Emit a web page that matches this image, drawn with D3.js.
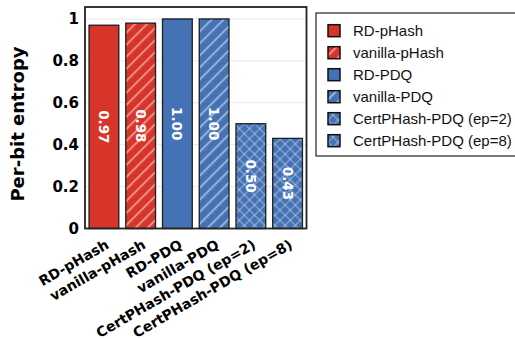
<!DOCTYPE html>
<html><head><meta charset="utf-8">
<script src="https://cdn.jsdelivr.net/npm/d3@7"></script>
<style>body{margin:0;background:#fff}svg{display:block}</style>
</head><body>
<script>
const categories = ["RD-pHash","vanilla-pHash","RD-PDQ","vanilla-PDQ","CertPHash-PDQ (ep=2)","CertPHash-PDQ (ep=8)"];
const values = [0.97, 0.98, 1.00, 1.00, 0.50, 0.43];
const valueLabels = ["0.97","0.98","1.00","1.00","0.50","0.43"];
const fills = ["red","red","blue","blue","blue","blue"];
const hatches = ["none","diag","none","diag","cross","cross"];
const yTicks = [0, 0.2, 0.4, 0.6, 0.8, 1];
const yTickLabels = ["0","0.2","0.4","0.6","0.8","1"];

const W = 515, H = 339;
const L = 85, R = 306.5, T = 7, B = 228.5;
const colors = {red: "#d8352a", blue: "#4472b4"};

const svg = d3.select("body").append("svg").attr("width", W).attr("height", H);
const defs = svg.append("defs");
const diag = defs.append("pattern").attr("id","diag").attr("patternUnits","userSpaceOnUse")
  .attr("width",8.5).attr("height",8.5).attr("patternTransform","rotate(45)");
diag.append("line").attr("x1",2).attr("x2",2).attr("y1",0).attr("y2",8.5)
  .attr("stroke","rgba(255,255,255,0.45)").attr("stroke-width",2);
const cross = defs.append("pattern").attr("id","cross").attr("patternUnits","userSpaceOnUse")
  .attr("width",7.2).attr("height",7.2).attr("patternTransform","rotate(45)");
cross.append("line").attr("x1",1).attr("x2",1).attr("y1",0).attr("y2",7.2)
  .attr("stroke","rgba(255,255,255,0.38)").attr("stroke-width",1.2);
cross.append("line").attr("y1",1).attr("y2",1).attr("x1",0).attr("x2",7.2)
  .attr("stroke","rgba(255,255,255,0.38)").attr("stroke-width",1.2);

const x = d3.scaleBand().domain(categories).range([L, R]).paddingInner(0.19).paddingOuter(0.11);
const y = d3.scaleLinear().domain([0, 1.057]).range([B, T]);

// gridlines
svg.append("g").selectAll("line").data(yTicks.filter(d => d > 0)).join("line")
  .attr("x1", L).attr("x2", R).attr("y1", d => y(d)).attr("y2", d => y(d))
  .attr("stroke", "#e2eaf3").attr("stroke-width", 1);

const data = categories.map((c, i) => ({c, v: values[i], lab: valueLabels[i], f: fills[i], h: hatches[i]}));
const bars = svg.append("g");
bars.selectAll("rect.base").data(data).join("rect").attr("class","base")
  .attr("x", d => x(d.c)).attr("width", x.bandwidth())
  .attr("y", d => y(d.v)).attr("height", d => y(0) - y(d.v))
  .attr("fill", d => colors[d.f]);
bars.selectAll("rect.hatch").data(data.filter(d => d.h !== "none")).join("rect").attr("class","hatch")
  .attr("x", d => x(d.c)).attr("width", x.bandwidth())
  .attr("y", d => y(d.v)).attr("height", d => y(0) - y(d.v))
  .attr("fill", d => `url(#${d.h})`);
bars.selectAll("rect.edge").data(data).join("rect").attr("class","edge")
  .attr("x", d => x(d.c)).attr("width", x.bandwidth())
  .attr("y", d => y(d.v)).attr("height", d => y(0) - y(d.v))
  .attr("fill", "none").attr("stroke", "#1e1e1e").attr("stroke-width", 1.3);

// value labels
bars.selectAll("text").data(data).join("text")
  .attr("transform", d => `translate(${x(d.c) + x.bandwidth()/2},${(y(d.v) + y(0))/2}) rotate(90)`)
  .attr("text-anchor", "middle").attr("dominant-baseline", "central")
  .attr("font-family", "DejaVu Sans").attr("font-weight", "bold").attr("font-size", 13.5)
  .attr("fill", "#fff").text(d => d.lab);

// frame
svg.append("rect").attr("x", L).attr("y", T).attr("width", R - L).attr("height", B - T)
  .attr("fill", "none").attr("stroke", "#222").attr("stroke-width", 1.8);

// y axis
const yAxis = d3.axisLeft(y).tickValues(yTicks).tickFormat((d, i) => yTickLabels[i]).tickSize(0).tickPadding(6);
const ya = svg.append("g").attr("transform", `translate(${L},0)`).call(yAxis);
ya.select(".domain").remove();
ya.selectAll("text").attr("font-family", "DejaVu Sans").attr("font-weight", "bold")
  .attr("font-size", 15).attr("fill", "#000");

// x axis
const xAxis = d3.axisBottom(x).tickSize(0).tickPadding(0);
const xa = svg.append("g").attr("transform", `translate(0,${B})`).call(xAxis);
xa.select(".domain").remove();
xa.selectAll("text").attr("font-family", "DejaVu Sans").attr("font-weight", "bold")
  .attr("font-size", 14).attr("fill", "#000")
  .attr("text-anchor", "end").attr("dy", null).attr("y", null)
  .attr("transform", "translate(6,19) rotate(-30)");

// y label
svg.append("text").attr("transform", "translate(24,124) rotate(-90)")
  .attr("text-anchor", "middle").attr("font-family", "DejaVu Sans").attr("font-weight", "bold")
  .attr("font-size", 18).attr("fill", "#000").text("Per-bit entropy");

// legend
const lg = svg.append("g");
lg.append("rect").attr("x", 316).attr("y", 13).attr("width", 215).attr("height", 143)
  .attr("fill", "#fff").attr("stroke", "#222").attr("stroke-width", 1.2);
const items = lg.selectAll("g.item").data(data).join("g").attr("class","item")
  .attr("transform", (d, i) => `translate(328,${30.7 + 22 * i})`);
items.append("rect").attr("x", 0).attr("y", -6).attr("width", 12).attr("height", 12)
  .attr("fill", d => colors[d.f]);
items.filter(d => d.h !== "none").append("rect").attr("x", 0).attr("y", -6).attr("width", 12).attr("height", 12)
  .attr("fill", d => `url(#${d.h})`);
items.append("rect").attr("x", 0).attr("y", -6).attr("width", 12).attr("height", 12)
  .attr("fill", "none").attr("stroke", "#111").attr("stroke-width", 1.5);
items.append("text").attr("x", 25).attr("y", 0).attr("dominant-baseline", "central")
  .attr("font-family", "Liberation Sans, Arial, sans-serif").attr("font-size", 15).attr("fill", "#111")
  .text(d => d.c);
</script>
</body></html>
